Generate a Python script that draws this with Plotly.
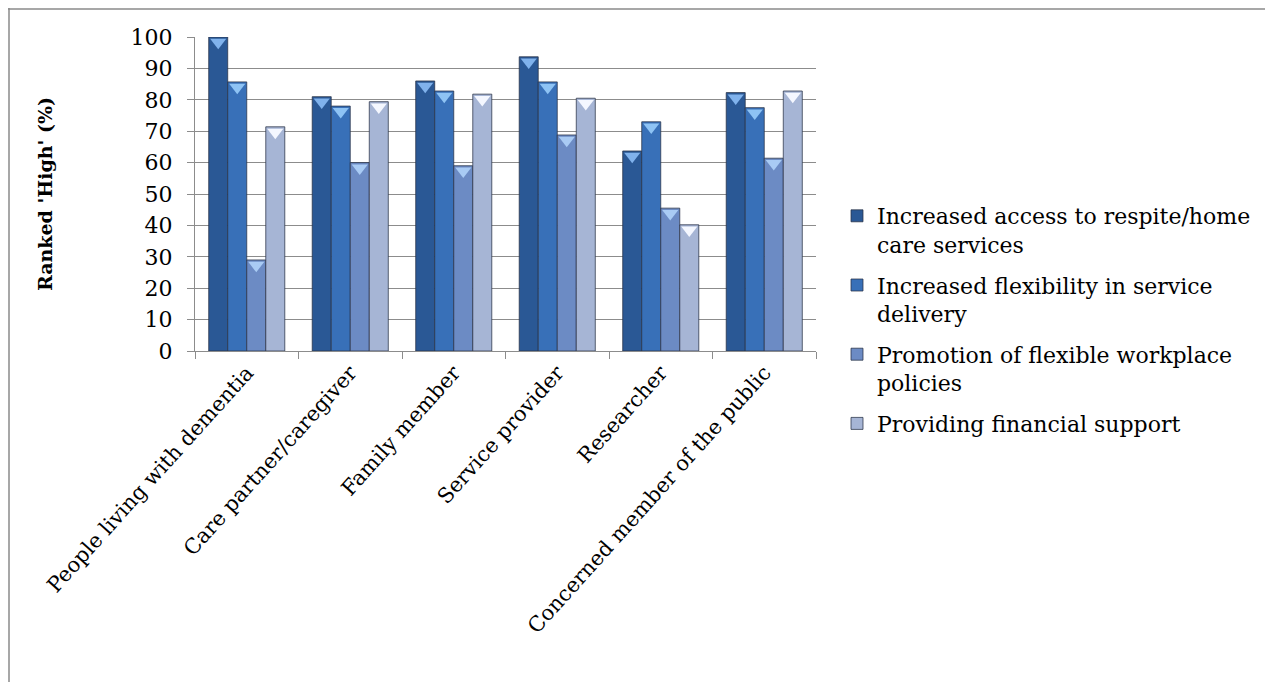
import plotly.graph_objects as go

categories = ["People living with dementia", "Care partner/caregiver", "Family member",
              "Service provider", "Researcher", "Concerned member of the public"]
series_names = ["Increased access to respite/home<br>care services",
                "Increased flexibility in service<br>delivery",
                "Promotion of flexible workplace<br>policies",
                "Providing financial support"]
access_respite = [100, 81, 86, 93.7, 63.7, 82.3]
flexibility_service = [85.7, 78, 82.8, 85.7, 73, 77.5]
workplace_policies = [29, 60, 59, 68.8, 45.5, 61.4]
financial_support = [71.4, 79.4, 81.8, 80.5, 40.2, 82.8]
y_ticks = list(range(0, 101, 10))

values = [access_respite, flexibility_service, workplace_policies, financial_support]
colors = ["#2A5895", "#3870B8", "#6C8BC4", "#A6B5D5"]
cap_colors = ["#80B2EC", "#8EC3F4", "#A9CBF4", "#F4F7FF"]

FONT = "DejaVu Serif"
fig = go.Figure()
for i, (name, vals, col) in enumerate(zip(series_names, values, colors)):
    fig.add_trace(go.Bar(
        x=categories, y=vals, name=name, legendgroup=f"g{i}", offsetgroup=f"o{i}",
        marker=dict(color=col, line=dict(color="rgba(40,50,70,0.75)", width=1)),
    ))
# light chevron caps on top of each bar
for i, (vals, cc) in enumerate(zip(values, cap_colors)):
    fig.add_trace(go.Scatter(
        x=categories, y=[v - 1.7 for v in vals], mode="markers", offsetgroup=f"o{i}",
        marker=dict(symbol="triangle-down", size=14, color=cc, line=dict(width=0)),
        showlegend=False, hoverinfo="skip",
    ))

# figure is placed at (8, 8) in the page
W, H = 1265, 674
L, R, T, B = 187, 808, 29, 343
pw, ph = R - L, B - T

def px(x):
    return (x - L) / pw

def py(y):
    return (B - y) / ph

fig.update_layout(
    width=W, height=H,
    margin=dict(l=L, r=W - R, t=T, b=H - B, pad=0),
    paper_bgcolor="white", plot_bgcolor="white",
    barmode="group", bargap=0.265, bargroupgap=0,
    scattermode="group", scattergap=0.265,
    font=dict(family=FONT, size=21, color="black"),
    legend=dict(x=px(829), y=py(187), xanchor="left", yanchor="top",
                font=dict(family=FONT, size=22), valign="top",
                tracegroupgap=9, itemwidth=30, bgcolor="rgba(0,0,0,0)"),
    showlegend=True,
    shapes=[
        dict(type="line", xref="paper", yref="paper", x0=px(0), x1=px(W + 5),
             y0=py(1), y1=py(1), line=dict(color="#8a8a8a", width=1.5)),
        dict(type="line", xref="paper", yref="paper", x0=px(1), x1=px(1),
             y0=py(0), y1=py(H + 5), line=dict(color="#8a8a8a", width=1.5)),
    ],
)
fig.update_yaxes(
    range=[0, 100], tickvals=y_ticks, showgrid=True, gridcolor="#8c8c8c", gridwidth=1.2,
    showline=True, linecolor="#8c8c8c", linewidth=1.2, ticks="outside", ticklen=7,
    tickcolor="#8c8c8c", tickfont=dict(family=FONT, size=22), zeroline=False,
    ticklabelstandoff=10,
    title=dict(text="<b>Ranked 'High' (%)</b>", font=dict(family=FONT, size=19), standoff=72),
)
fig.update_xaxes(
    showline=True, linecolor="#8c8c8c", linewidth=1.2, ticks="outside", ticklen=7,
    tickcolor="#8c8c8c", tickson="boundaries", tickangle=-48,
    tickfont=dict(family=FONT, size=21), showgrid=False,
)
fig.write_html("out.html")
